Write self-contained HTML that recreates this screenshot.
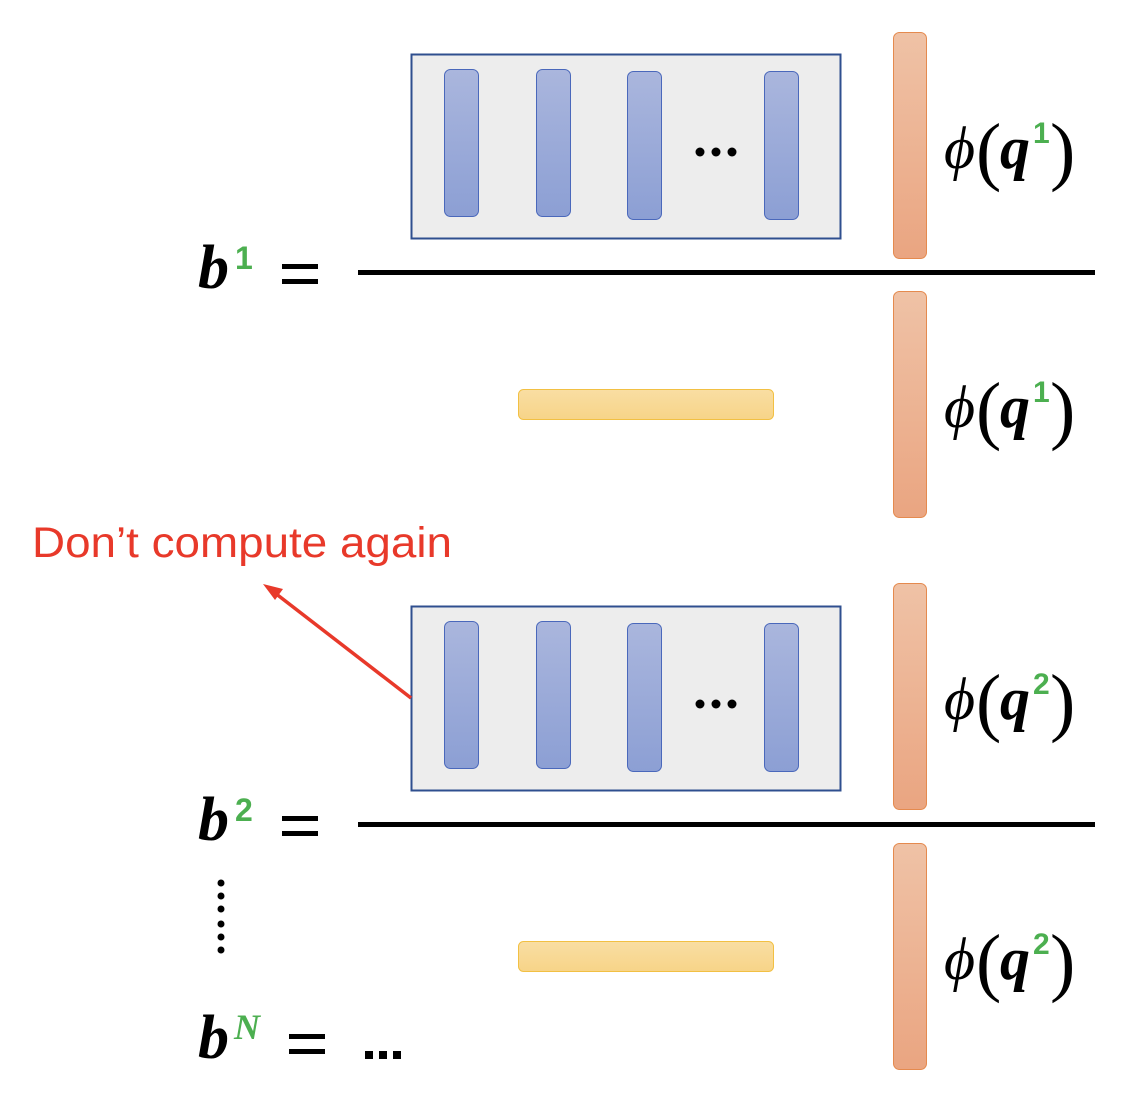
<!DOCTYPE html>
<html><head><meta charset="utf-8"><style>
html,body{margin:0;padding:0;background:#fff;}
svg{display:block}
</style></head><body>
<svg width="1138" height="1104" viewBox="0 0 1138 1104" xmlns="http://www.w3.org/2000/svg">
<defs>
<linearGradient id="bl" x1="0" y1="0" x2="0" y2="1"><stop offset="0" stop-color="#aab6dd"/><stop offset="1" stop-color="#8c9fd4"/></linearGradient>
<linearGradient id="or" x1="0" y1="0" x2="0" y2="1"><stop offset="0" stop-color="#efc2a6"/><stop offset="1" stop-color="#eaa581"/></linearGradient>
<linearGradient id="ye" x1="0" y1="0" x2="0" y2="1"><stop offset="0" stop-color="#f9dea3"/><stop offset="1" stop-color="#f7d488"/></linearGradient>
<g id="box">
<rect x="411.5" y="54.5" width="429" height="184" fill="#ededed" stroke="#2f4f8f" stroke-width="2"/>
<rect x="444.5" y="69.5" width="34" height="147" rx="6" fill="url(#bl)" stroke="#4a68bb" stroke-width="1"/>
<rect x="536.5" y="69.5" width="34" height="147" rx="6" fill="url(#bl)" stroke="#4a68bb" stroke-width="1"/>
<rect x="627.5" y="71.5" width="34" height="148" rx="6" fill="url(#bl)" stroke="#4a68bb" stroke-width="1"/>
<rect x="764.5" y="71.5" width="34" height="148" rx="6" fill="url(#bl)" stroke="#4a68bb" stroke-width="1"/>
<circle cx="700" cy="152" r="4.5" fill="#000"/><circle cx="716" cy="152" r="4.5" fill="#000"/><circle cx="732" cy="152" r="4.5" fill="#000"/>
</g>
<g id="ob"><rect x="893.5" y="0.5" width="33" height="226" rx="6" fill="url(#or)" stroke="#e58a4e" stroke-width="1"/></g>
<g id="yb"><rect x="518.5" y="0.5" width="255" height="30" rx="5" fill="url(#ye)" stroke="#f2c043" stroke-width="1"/></g>
<g id="phi" font-family="Liberation Serif, serif">
<text x="944" y="0" font-size="60" font-style="italic">ϕ</text>
<text x="976" y="8" font-size="76">(</text>
<text x="1000" y="0" font-size="60" font-style="italic" font-weight="bold">q</text>
<text x="1033" y="-25" font-size="30" font-weight="bold" fill="#4caf50" font-family="Liberation Sans, sans-serif">SUP</text>
<text x="1050" y="8" font-size="76">)</text>
</g>
</defs>

<use href="#box"/>
<use href="#box" y="552"/>
<use href="#ob" y="32"/>
<use href="#ob" y="291"/>
<use href="#ob" y="583"/>
<use href="#ob" y="843"/>
<use href="#yb" y="389"/>
<use href="#yb" y="941"/>

<rect x="358" y="270" width="737" height="5" fill="#000"/>
<rect x="358" y="822" width="737" height="5" fill="#000"/>

<g font-family="Liberation Serif, serif">
<g transform="translate(0,168)">
<text x="944" y="0" font-size="60" font-style="italic">ϕ</text><text x="976" y="8" font-size="76">(</text><text x="1000" y="0" font-size="60" font-style="italic" font-weight="bold">q</text><text x="1033" y="-25" font-size="30" font-weight="bold" fill="#4caf50" font-family="Liberation Sans, sans-serif">1</text><text x="1050" y="8" font-size="76">)</text>
</g>
<g transform="translate(0,427)">
<text x="944" y="0" font-size="60" font-style="italic">ϕ</text><text x="976" y="8" font-size="76">(</text><text x="1000" y="0" font-size="60" font-style="italic" font-weight="bold">q</text><text x="1033" y="-25" font-size="30" font-weight="bold" fill="#4caf50" font-family="Liberation Sans, sans-serif">1</text><text x="1050" y="8" font-size="76">)</text>
</g>
<g transform="translate(0,719)">
<text x="944" y="0" font-size="60" font-style="italic">ϕ</text><text x="976" y="8" font-size="76">(</text><text x="1000" y="0" font-size="60" font-style="italic" font-weight="bold">q</text><text x="1033" y="-25" font-size="30" font-weight="bold" fill="#4caf50" font-family="Liberation Sans, sans-serif">2</text><text x="1050" y="8" font-size="76">)</text>
</g>
<g transform="translate(0,979)">
<text x="944" y="0" font-size="60" font-style="italic">ϕ</text><text x="976" y="8" font-size="76">(</text><text x="1000" y="0" font-size="60" font-style="italic" font-weight="bold">q</text><text x="1033" y="-25" font-size="30" font-weight="bold" fill="#4caf50" font-family="Liberation Sans, sans-serif">2</text><text x="1050" y="8" font-size="76">)</text>
</g>
</g>

<g font-family="Liberation Serif, serif">
<text x="198" y="288" font-size="62" font-style="italic" font-weight="bold">b</text>
<text x="235" y="269" font-size="32" font-weight="bold" fill="#4caf50" font-family="Liberation Sans, sans-serif">1</text>
<rect x="282" y="264" width="36" height="5" fill="#000"/><rect x="282" y="279" width="36" height="5" fill="#000"/>

<text x="198" y="840" font-size="62" font-style="italic" font-weight="bold">b</text>
<text x="235" y="821" font-size="32" font-weight="bold" fill="#4caf50" font-family="Liberation Sans, sans-serif">2</text>
<rect x="282" y="816" width="36" height="5" fill="#000"/><rect x="282" y="831" width="36" height="5" fill="#000"/>

<text x="198" y="1058" font-size="62" font-style="italic" font-weight="bold">b</text>
<text x="234" y="1039" font-size="36" font-weight="bold" font-style="italic" fill="#4caf50">N</text>
<rect x="289" y="1034" width="36" height="5" fill="#000"/><rect x="289" y="1049" width="36" height="5" fill="#000"/>
</g>
<rect x="365" y="1051" width="8" height="8" fill="#000"/><rect x="379" y="1051" width="8" height="8" fill="#000"/><rect x="393" y="1051" width="8" height="8" fill="#000"/>

<g fill="#000">
<circle cx="221" cy="883" r="3.5"/><circle cx="221" cy="896" r="3.5"/><circle cx="221" cy="909" r="3.5"/>
<circle cx="221" cy="924" r="3.5"/><circle cx="221" cy="937" r="3.5"/><circle cx="221" cy="950" r="3.5"/>
</g>

<text x="32" y="557" font-family="Liberation Sans, sans-serif" font-size="43" fill="#e8392a" textLength="420" lengthAdjust="spacingAndGlyphs">Don’t compute again</text>
<line x1="411" y1="698" x2="275" y2="593" stroke="#e8392a" stroke-width="3.5"/>
<polygon points="263,584 283,589 275,600" fill="#e8392a"/>
</svg>
</body></html>
